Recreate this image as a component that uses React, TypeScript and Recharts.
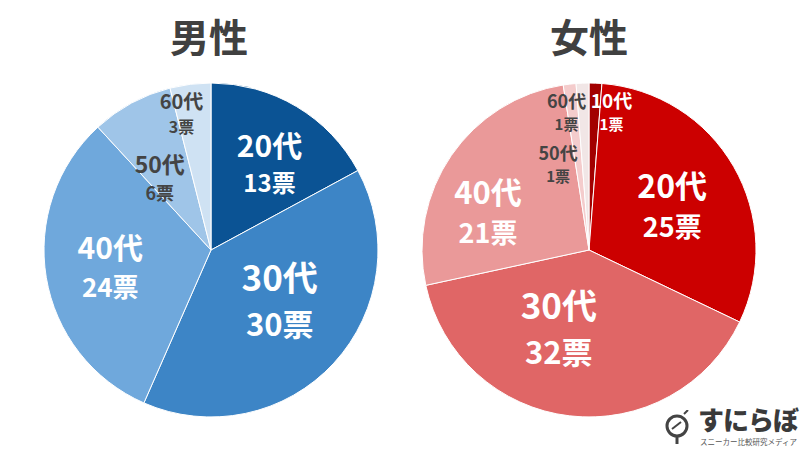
import React from 'react'
import { PieChart, Pie, Cell } from 'recharts'

// 投票データ
const maleAges = ['20代', '30代', '40代', '50代', '60代']
const maleVotes = [13, 30, 24, 6, 3]
const femaleAges = ['10代', '20代', '30代', '40代', '50代', '60代']
const femaleVotes = [1, 25, 32, 21, 1, 1]

const maleColors = ['#0b5394', '#3d85c6', '#6fa8dc', '#9fc5e8', '#cfe2f3']
const femaleColors = ['#a20000', '#cc0000', '#e06666', '#ea9999', '#f4cccc', '#f1e6e6']

interface LabelStyle {
  r: number
  shift: number
  f1: number
  f2: number
  color: string
}

const maleLabels: LabelStyle[] = [
  { r: 0.63, shift: 3, f1: 30, f2: 24, color: '#fff' },
  { r: 0.5, shift: -8, f1: 35, f2: 31, color: '#fff' },
  { r: 0.61, shift: 1, f1: 30, f2: 26, color: '#fff' },
  { r: 0.53, shift: -7, f1: 23, f2: 18, color: '#444' },
  { r: 0.84, shift: -5, f1: 20, f2: 16, color: '#444' },
]

const femaleLabels: LabelStyle[] = [
  { r: 0.84, shift: 7, f1: 19, f2: 15, color: '#fff' },
  { r: 0.57, shift: 1, f1: 32, f2: 27, color: '#fff' },
  { r: 0.49, shift: 15, f1: 35, f2: 31, color: '#fff' },
  { r: 0.65, shift: -13, f1: 31, f2: 27, color: '#fff' },
  { r: 0.55, shift: -13, f1: 18, f2: 15, color: '#444' },
  { r: 0.84, shift: -7, f1: 18, f2: 15, color: '#444' },
]

const FONT = '"Noto Sans CJK JP", "Noto Sans", sans-serif'
const RAD = Math.PI / 180

const makeLabel = (ages: string[], votes: number[], styles: LabelStyle[]) => (props: any) => {
  const { cx, cy, midAngle, outerRadius, index } = props
  const s = styles[index]
  const angle = (midAngle - s.shift) * RAD
  const x = cx + outerRadius * s.r * Math.cos(angle)
  const y = cy - outerRadius * s.r * Math.sin(angle)
  return (
    <g key={`l-${index}`}>
      <text
        x={x}
        y={y - s.f1 * 0.63}
        textAnchor="middle"
        dominantBaseline="central"
        fill={s.color}
        fontSize={s.f1}
        fontWeight={700}
        fontFamily={FONT}
      >
        {ages[index]}
      </text>
      <text
        x={x}
        y={y + s.f2 * 0.8}
        textAnchor="middle"
        dominantBaseline="central"
        fill={s.color}
        fontSize={s.f2}
        fontWeight={700}
        fontFamily={FONT}
      >
        {votes[index]}票
      </text>
    </g>
  )
}

const maleData = maleAges.map((age, i) => ({ name: age, value: maleVotes[i] }))
const femaleData = femaleAges.map((age, i) => ({ name: age, value: femaleVotes[i] }))

const titleStyle: React.CSSProperties = {
  position: 'absolute',
  top: 9,
  width: 200,
  textAlign: 'center',
  fontFamily: FONT,
  fontWeight: 700,
  fontSize: 39,
  color: '#404040',
  lineHeight: '52px',
}

export default function App() {
  return (
    <div style={{ position: 'absolute', left: 0, top: 0, width: 800, height: 450, background: '#fff', overflow: 'hidden' }}>
      <div style={{ ...titleStyle, left: 109 }}>男性</div>
      <div style={{ ...titleStyle, left: 489 }}>女性</div>
      <PieChart width={800} height={450} margin={{ top: 0, right: 0, bottom: 0, left: 0 }}>
        <Pie
          data={maleData}
          dataKey="value"
          cx={211}
          cy={250}
          outerRadius={167}
          startAngle={90}
          endAngle={-270}
          stroke="#fff"
          strokeWidth={1}
          labelLine={false}
          label={makeLabel(maleAges, maleVotes, maleLabels)}
          isAnimationActive={false}
        >
          {maleData.map((d, i) => (
            <Cell key={d.name} fill={maleColors[i]} />
          ))}
        </Pie>
        <Pie
          data={femaleData}
          dataKey="value"
          cx={589}
          cy={250}
          outerRadius={167}
          startAngle={90}
          endAngle={-270}
          stroke="#fff"
          strokeWidth={1}
          labelLine={false}
          label={makeLabel(femaleAges, femaleVotes, femaleLabels)}
          isAnimationActive={false}
        >
          {femaleData.map((d, i) => (
            <Cell key={d.name} fill={femaleColors[i]} />
          ))}
        </Pie>
      </PieChart>
      {/* ロゴ */}
      <svg style={{ position: 'absolute', left: 662, top: 410 }} width={34} height={36}>
        <circle cx={15} cy={16} r={10} fill="none" stroke="#444" strokeWidth={3} />
        <line x1={15} y1={26} x2={15} y2={34} stroke="#444" strokeWidth={3} />
        <line x1={10} y1={19} x2={19} y2={12} stroke="#444" strokeWidth={2} />
        <line x1={22} y1={4} x2={26} y2={0} stroke="#444" strokeWidth={2} />
      </svg>
      <div
        style={{
          position: 'absolute',
          left: 698,
          top: 405,
          fontFamily: FONT,
          fontWeight: 900,
          fontSize: 26,
          color: '#3a3a3a',
          lineHeight: '28px',
          letterSpacing: -1,
        }}
      >
        すにらぼ
      </div>
      <div
        style={{
          position: 'absolute',
          left: 700,
          top: 437,
          fontFamily: FONT,
          fontSize: 7.5,
          color: '#555',
          lineHeight: '10px',
          whiteSpace: 'nowrap',
        }}
      >
        スニーカー比較研究メディア
      </div>
    </div>
  )
}
